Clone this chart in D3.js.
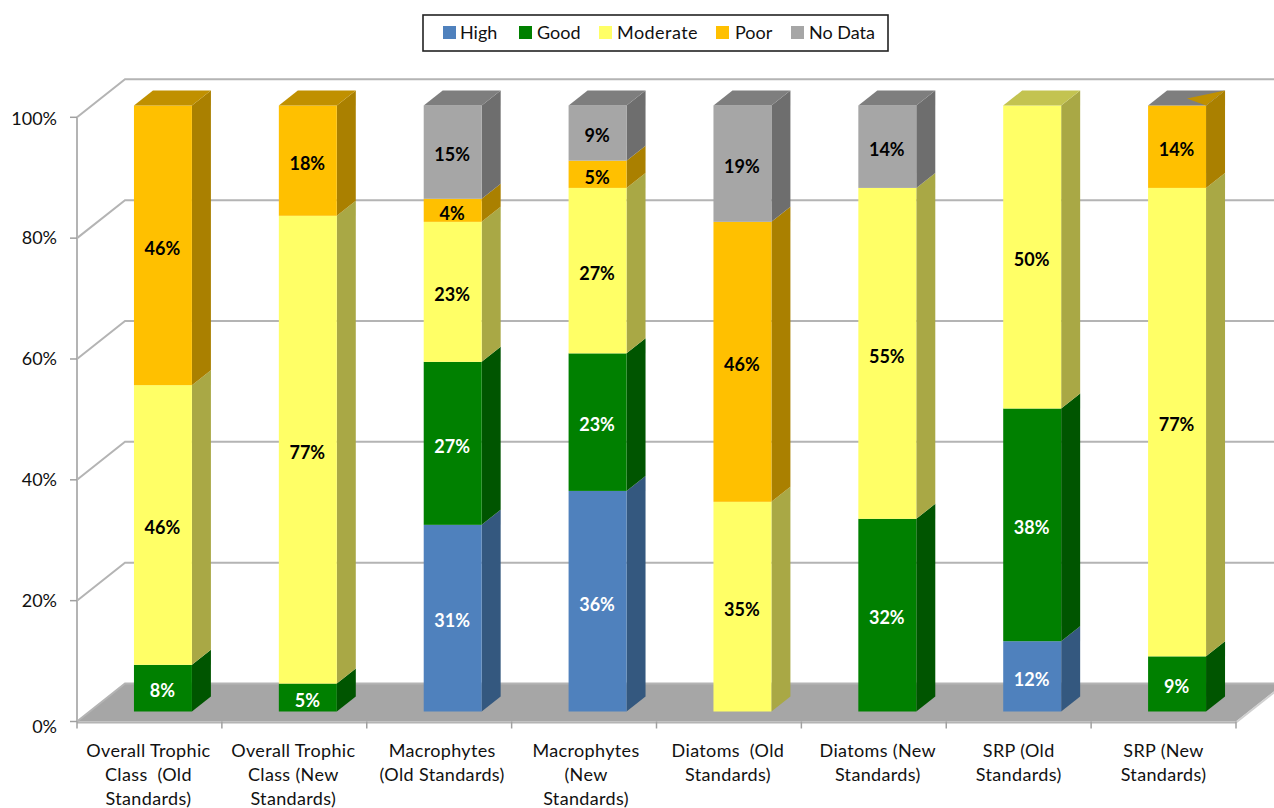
<!DOCTYPE html>
<html><head><meta charset="utf-8">
<script src="https://cdn.jsdelivr.net/npm/d3@7/dist/d3.min.js"></script>
<style>
html,body{margin:0;padding:0;background:#fff;overflow:hidden}
svg{display:block}
text{font-family:Lato,"Noto Sans",sans-serif;white-space:pre}
</style></head><body>
<svg id="chart" width="1274" height="808"></svg>
<script>
const categoryLines = [
  ["Overall Trophic","Class  (Old","Standards)"],
  ["Overall Trophic","Class (New","Standards)"],
  ["Macrophytes","(Old Standards)"],
  ["Macrophytes","(New","Standards)"],
  ["Diatoms  (Old","Standards)"],
  ["Diatoms (New","Standards)"],
  ["SRP (Old","Standards)"],
  ["SRP (New","Standards)"]
];
const high     = [0,0,30.8,36.4,0,0,11.6,0];
const good     = [7.7,4.6,26.9,22.7,0,31.8,38.4,9.1];
const moderate = [46.15,77.2,23.1,27.3,34.6,54.6,50,77.3];
const poor     = [46.15,18.2,3.8,4.5,46.2,0,0,13.6];
const noData   = [0,0,15.4,9.1,19.2,13.6,0,0];
const seriesNames = ["High","Good","Moderate","Poor","No Data"];
const seriesValues = [high,good,moderate,poor,noData];
const yTicks = [0,20,40,60,80,100];
const frontColors = ["#4f81bd","#008000","#ffff66","#ffc000","#a6a6a6"];
const sideColors  = ["#34587f","#005500","#a9a845","#aa8000","#6e6e6e"];
const topColors   = ["#3f6797","#006600","#c3c350","#c09000","#7e7e7e"];
const labelColors = ["#fff","#fff","#000","#000","#000"];
const legendSwatchX = [443,519,599,716,791];
const legendTextX   = [460,537,617,735,809];
const categoryNudge = [-1,-1,3,2,-1,4,0,0];

const svg = d3.select("#chart");
const depth = {wall:[48,-38], bar:[19,-15]};
const left = 77, right = 1236;
const yWall = d3.scaleLinear().domain([0,100]).range([721.5,117.3]);
const yBar  = d3.scaleLinear().domain([0,100]).range([711.5,105.5]);
const xAxis = d3.scaleBand().domain(d3.range(8)).range([left,right]);
const xBar  = d3.scaleBand().domain(d3.range(8)).range([90.5,1249.5]).paddingInner(0.6).paddingOuter(0.3);

const gridC = "#b4b4b4";
const poly = pts => pts.map(p=>p.join(",")).join(" ");

// floor
svg.append("polygon").attr("fill","#a6a6a6")
  .attr("points",poly([[left,yWall(0)],[left+depth.wall[0],yWall(0)+depth.wall[1]],[right+depth.wall[0],yWall(0)+depth.wall[1]],[right,yWall(0)]]));

// gridlines with wall diagonals
const grid = svg.append("g").attr("fill","none").attr("stroke",gridC).attr("stroke-width",2);
yTicks.forEach(t=>{
  const y = yWall(t);
  grid.append("polyline").attr("points",poly([[left,y],[left+depth.wall[0],y+depth.wall[1]],[right+depth.wall[0],y+depth.wall[1]]]));
});
grid.append("line").attr("x1",left).attr("x2",left).attr("y1",yWall(100)).attr("y2",yWall(0));
grid.append("line").attr("x1",left).attr("x2",right).attr("y1",yWall(0)+1).attr("y2",yWall(0)+1);
grid.append("line").attr("x1",right).attr("x2",right+depth.wall[0]).attr("y1",yWall(0)+1).attr("y2",yWall(0)+1+depth.wall[1]).attr("stroke","#d0d0d0");

// ticks
const ticks = svg.append("g").attr("stroke","#a0a0a0").attr("stroke-width",1.5);
yTicks.forEach(t=>ticks.append("line").attr("x1",left-7).attr("x2",left).attr("y1",yWall(t)).attr("y2",yWall(t)));
d3.range(9).forEach(i=>{
  const x = i<8 ? xAxis(i) : right;
  ticks.append("line").attr("x1",x).attr("x2",x).attr("y1",yWall(0)).attr("y2",yWall(0)+7);
});
const yLabelDy = t => t===0 ? 5 : (t===100 ? 1 : 0);
svg.append("g").selectAll("text").data(yTicks).join("text")
  .attr("x",57).attr("y",t=>yWall(t)+yLabelDy(t)).attr("dy",".35em")
  .attr("text-anchor","end").attr("font-size",18).attr("fill","#111")
  .text(t=>t+"%");

// bars
const labels = [];
categoryLines.forEach((_,i)=>{
  const g = svg.append("g");
  const x = xBar(i), w = xBar.bandwidth(), [dx,dy] = depth.bar;
  let cum = 0, topIdx = -1;
  seriesValues.forEach((vals,s)=>{
    const v = vals[i];
    if(v<=0) return;
    const y0 = yBar(cum), y1 = yBar(cum+v);
    g.append("polygon").attr("fill",sideColors[s])
      .attr("points",poly([[x+w,y0],[x+w+dx,y0+dy],[x+w+dx,y1+dy],[x+w,y1]]));
    g.append("rect").attr("x",x).attr("y",y1).attr("width",w).attr("height",y0-y1).attr("fill",frontColors[s]);
    labels.push({x:x+w/2,y:(y0+y1)/2,t:Math.round(v)+"%",c:labelColors[s]});
    cum += v; topIdx = s;
  });
  const yt = yBar(100);
  const lastZeroTop = i===7;
  g.append("polygon").attr("fill",lastZeroTop?topColors[4]:topColors[topIdx])
    .attr("points",poly([[x,yt],[x+dx,yt+dy],[x+w+dx,yt+dy],[x+w,yt]]));
  if(lastZeroTop){
    g.append("polygon").attr("fill",topColors[3])
      .attr("points",poly([[x+w+dx,yt+dy],[x+w,yt],[x+w*0.67,yt-7]]));
  }
});
svg.append("g").selectAll("text").data(labels).join("text")
  .attr("x",d=>d.x-0.5).attr("y",d=>d.y+3).attr("dy",".35em").attr("text-anchor","middle")
  .attr("font-size",18).attr("font-weight",700).attr("fill",d=>d.c).text(d=>d.t);

// category labels
categoryLines.forEach((lines,i)=>{
  const t = svg.append("text").attr("text-anchor","middle").attr("font-size",18).attr("letter-spacing",0.35).attr("fill","#111");
  lines.forEach((ln,k)=>{
    t.append("tspan").attr("x",xAxis(i)+xAxis.bandwidth()/2+categoryNudge[i]).attr("y",757+k*24).text(ln);
  });
});

// legend
const legend = svg.append("g");
legend.append("rect").attr("x",423).attr("y",15).attr("width",465).attr("height",36)
  .attr("fill","#fff").attr("stroke","#222").attr("stroke-width",1.6);
seriesNames.forEach((n,i)=>{
  legend.append("rect").attr("x",legendSwatchX[i]).attr("y",26).attr("width",13).attr("height",13).attr("fill",frontColors[i]);
  legend.append("text").attr("x",legendTextX[i]).attr("y",39).attr("font-size",18).attr("letter-spacing",n==="Moderate"?0.45:0).attr("fill","#111").text(n);
});
</script>
</body></html>
